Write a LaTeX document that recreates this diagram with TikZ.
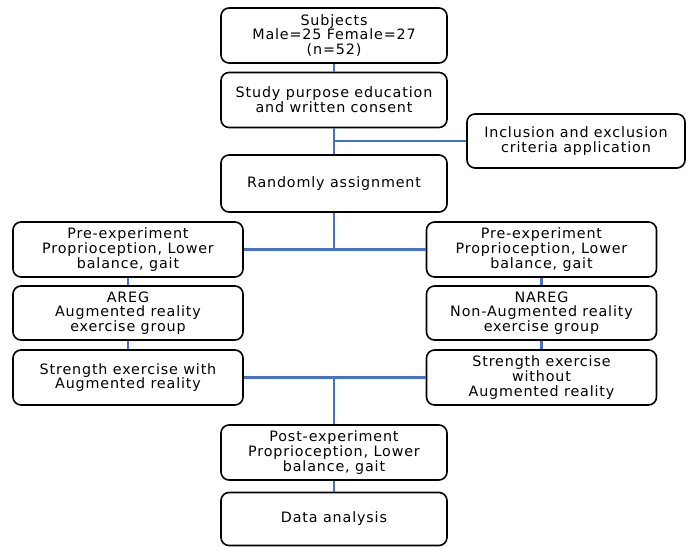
\documentclass[tikz,border=0pt]{standalone}
\usepackage{fontspec}
\setmainfont{DejaVu Sans}[LetterSpace=6]
\definecolor{connblue}{RGB}{68,114,196}
\begin{document}
\begin{tikzpicture}[x=1pt,y=-1pt,
  box/.style={draw=black,line width=1.6pt,rounded corners=8pt,fill=white,
    align=center,inner sep=1pt,font=\fontsize{14.3}{14.8}\selectfont},
  cbox/.style={box,minimum width=226pt,minimum height=55pt},
  sbox/.style={box,minimum width=230pt,minimum height=55pt},
  ibox/.style={box,minimum width=218pt,minimum height=54pt},
  conn/.style={draw=connblue,line width=2.6pt}]
\useasboundingbox (0,0) rectangle (686,547);
\node[cbox] (subj) at (334,35.5) {Subjects\\Male=25 Female=27\\(n=52)};
\node[cbox] (study) at (334,100) {Study purpose education\\and written consent};
\node[ibox] (incl) at (576,141) {Inclusion and exclusion\\criteria application};
\node[cbox,minimum height=57pt] (rand) at (334,183.5) {Randomly assignment};
\node[sbox] (preL) at (128,249.5) {Pre-experiment\\Proprioception, Lower\\balance, gait};
\node[sbox] (preR) at (541.5,249.5) {Pre-experiment\\Proprioception, Lower\\balance, gait};
\node[sbox,minimum height=54pt] (aregL) at (128,313) {AREG\\Augmented reality\\exercise group};
\node[sbox,minimum height=54pt] (aregR) at (541.5,313) {NAREG\\Non-Augmented reality\\exercise group};
\node[sbox] (strL) at (128,377.5) {Strength exercise with\\Augmented reality};
\node[sbox] (strR) at (541.5,377.5) {Strength exercise\\without\\Augmented reality};
\node[cbox] (post) at (334,452.5) {Post-experiment\\Proprioception, Lower\\balance, gait};
\node[cbox,minimum height=53pt] (data) at (334,519) {Data analysis};
\draw[conn] (subj) -- (study);
\draw[conn] (study) -- (rand);
\draw[conn] (incl.west) -- (incl.west -| rand.south);
\draw[conn] (rand.south) -- (rand.south |- preL.east);
\draw[conn] (preL) -- (preR);
\draw[conn] (preL) -- (aregL);
\draw[conn] (aregL) -- (strL);
\draw[conn] (preR) -- (aregR);
\draw[conn] (aregR) -- (strR);
\draw[conn] (strL) -- (strR);
\draw[conn] (post.north |- strL.east) -- (post.north);
\draw[conn] (post) -- (data);
\end{tikzpicture}
\end{document}
